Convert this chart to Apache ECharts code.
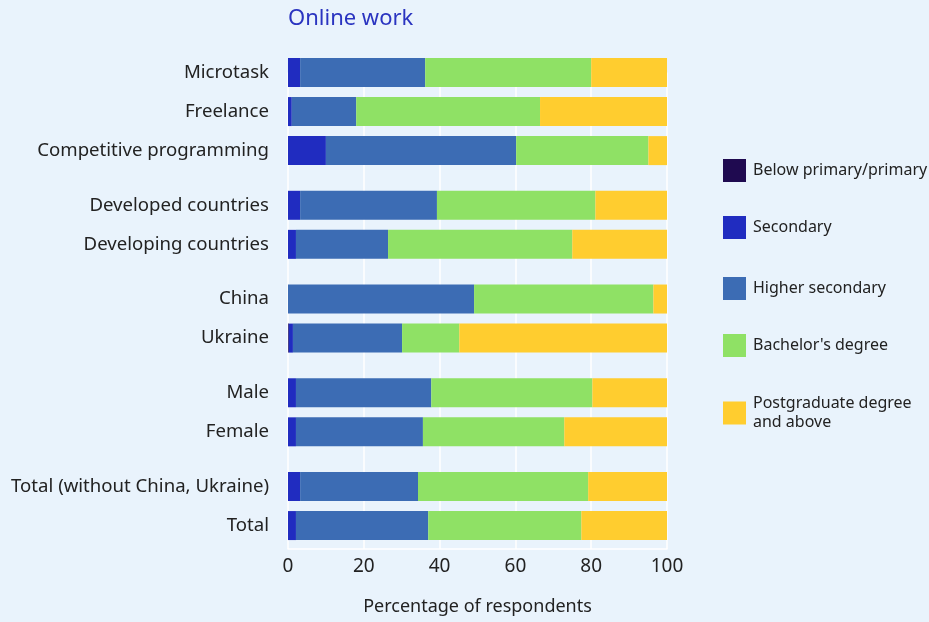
<!DOCTYPE html>
<html>
<head>
<meta charset="utf-8">
<script src="https://cdn.jsdelivr.net/npm/echarts@6/dist/echarts.min.js"></script>
<style>
  html, body { margin: 0; padding: 0; background: #e9f3fc; }
  #chart { width: 929px; height: 622px; }
</style>
</head>
<body>
<div id="chart"></div>
<script>
// Category groups, top to bottom
const groups = [
  ['Microtask', 'Freelance', 'Competitive programming'],
  ['Developed countries', 'Developing countries'],
  ['China', 'Ukraine'],
  ['Male', 'Female'],
  ['Total (without China, Ukraine)', 'Total']
];

const seriesNames = [
  'Below primary/primary',
  'Secondary',
  'Higher secondary',
  "Bachelor's degree",
  'Postgraduate degree\nand above'
];

// Shares (%) per category, in the order of groups flattened
const belowPrimary = [0, 0, 0, 0, 0, 0, 0.2, 0, 0, 0, 0];
const secondary    = [3.2, 1.0, 10.0, 3.2, 2.1, 0, 1.1, 2.1, 2.1, 3.2, 2.1];
const higherSec    = [33.0, 17.0, 50.2, 36.1, 24.3, 49.1, 28.8, 35.7, 33.5, 31.1, 34.9];
const bachelor     = [43.8, 48.5, 34.9, 41.8, 48.6, 47.3, 15.1, 42.5, 37.3, 44.9, 40.4];
const postgrad     = [20.0, 33.5, 4.9, 18.9, 25.0, 3.6, 54.8, 19.7, 27.1, 20.8, 22.6];

const xTicks = [0, 20, 40, 60, 80, 100];

const colors = ['#1f0a50', '#202cc0', '#3c6cb4', '#8fe165', '#ffcd2f'];

// Slot layout on the category axis: spacing inside a group and between groups
const STEP_IN = 5, STEP_GROUP = 7, TAIL = 3;
const slots = [];
const slotIndexOfCat = [];
let gapCount = 0;
groups.forEach((g) => {
  g.forEach((name, ci) => {
    if (slots.length > 0) {
      const step = ci === 0 ? STEP_GROUP : STEP_IN;
      for (let k = 0; k < step - 1; k++) slots.push('gap-' + (gapCount++));
    }
    slotIndexOfCat.push(slots.length);
    slots.push(name);
  });
});
for (let k = 0; k < TAIL; k++) slots.push('gap-' + (gapCount++));

function toSlots(values) {
  const arr = slots.map(() => '-');
  values.forEach((v, i) => { arr[slotIndexOfCat[i]] = v; });
  return arr;
}

const valueSets = [belowPrimary, secondary, higherSec, bachelor, postgrad];
const font = '"Noto Sans", "Open Sans", sans-serif';

const series = seriesNames.map((name, i) => ({
  name: name,
  type: 'bar',
  stack: 'share',
  barWidth: 29,
  clip: false,
  itemStyle: { color: colors[i] },
  emphasis: { disabled: true },
  data: toSlots(valueSets[i])
}));

const legendTops = [154, 211, 272, 329, 389];
const legends = seriesNames.map((name, i) => ({
  data: [name],
  orient: 'vertical',
  left: 718,
  top: legendTops[i],
  itemWidth: 23,
  itemHeight: 23,
  icon: 'rect',
  selectedMode: false,
  textStyle: { fontFamily: font, fontSize: 16, color: '#222', lineHeight: 19, padding: [0, 0, 0, 2] }
}));

const chart = echarts.init(document.getElementById('chart'));
chart.setOption({
  backgroundColor: '#e9f3fc',
  animation: false,
  color: colors,
  title: {
    text: 'Online work',
    left: 283,
    top: 3,
    textStyle: { fontFamily: font, fontSize: 22, fontWeight: 'normal', color: '#2a34c0' }
  },
  legend: legends,
  grid: { left: 288, right: 262, top: 72.5, bottom: 73 },
  xAxis: {
    type: 'value',
    min: 0,
    max: 100,
    interval: 20,
    name: 'Percentage of respondents',
    nameLocation: 'middle',
    nameGap: 49,
    nameTextStyle: { fontFamily: font, fontSize: 18, color: '#222' },
    axisLine: { show: true, lineStyle: { color: '#ffffff', width: 1.5 } },
    axisTick: { show: false },
    axisLabel: {
      fontFamily: font, fontSize: 19, color: '#222', margin: 8,
      formatter: v => xTicks.includes(v) ? String(v) : ''
    },
    splitLine: { show: true, lineStyle: { color: '#ffffff', width: 1.5 } }
  },
  yAxis: {
    type: 'category',
    inverse: true,
    boundaryGap: false,
    data: slots,
    axisLine: { show: false },
    axisTick: { show: false },
    splitLine: { show: false },
    axisLabel: {
      interval: 0,
      margin: 19,
      fontFamily: font, fontSize: 18.6, color: '#222',
      formatter: v => v.startsWith('gap-') ? '' : v
    }
  },
  series: series
});
</script>
</body>
</html>
